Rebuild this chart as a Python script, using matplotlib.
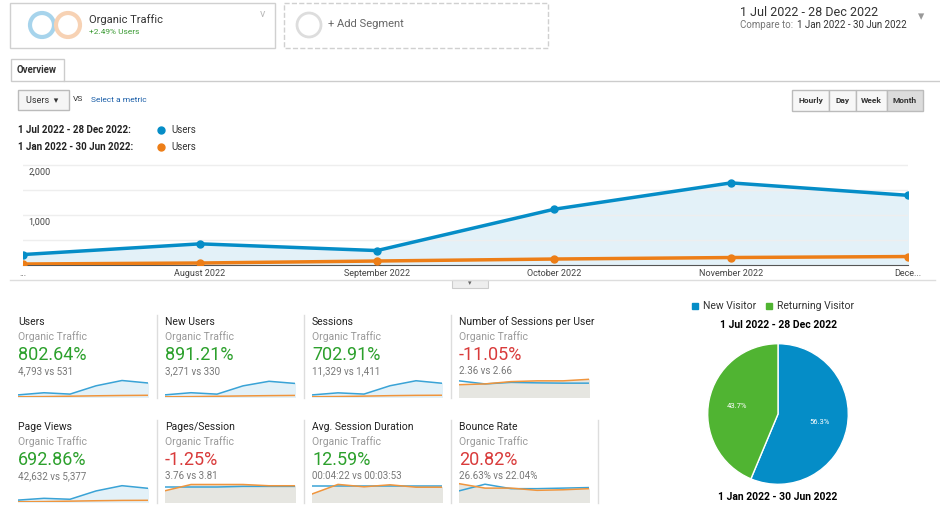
import numpy as np
import matplotlib
matplotlib.use('Agg')
import matplotlib.pyplot as plt
from matplotlib.patches import Rectangle, Circle

plt.rcParams['font.family'] = ['Roboto', 'DejaVu Sans']

# main chart data
months = ['...', 'August 2022', 'September 2022', 'October 2022', 'November 2022', 'Dece...']
users_cur = [210, 425, 290, 1120, 1650, 1400]
users_prev = [20, 40, 80, 120, 150, 170]

# metric tiles
tile_names = ['Users', 'New Users', 'Sessions', 'Number of Sessions per User',
              'Page Views', 'Pages/Session', 'Avg. Session Duration', 'Bounce Rate']
tile_pct = ['802.64%', '891.21%', '702.91%', '-11.05%',
            '692.86%', '-1.25%', '12.59%', '20.82%']
tile_vs = ['4,793 vs 531', '3,271 vs 330', '11,329 vs 1,411', '2.36 vs 2.66',
           '42,632 vs 5,377', '3.76 vs 3.81', '00:04:22 vs 00:03:53', '26.63% vs 22.04%']

# sparkline values (current, previous)
spark_cur = [
    [210, 425, 290, 1120, 1650, 1400],
    [150, 300, 200, 780, 1100, 950],
    [500, 1000, 700, 2700, 3900, 3300],
    [2.55, 2.35, 2.45, 2.42, 2.40, 2.40],
    [1800, 3500, 2600, 10500, 15500, 13000],
    [3.7, 3.7, 3.7, 3.75, 3.75, 3.75],
    [250, 250, 250, 250, 250, 250],
    [20, 32, 24, 24, 25, 26],
]
spark_prev = [
    [20, 40, 80, 120, 150, 170],
    [15, 25, 50, 75, 95, 110],
    [60, 110, 210, 320, 390, 420],
    [2.3, 2.35, 2.5, 2.55, 2.55, 2.65],
    [230, 420, 800, 1200, 1500, 1600],
    [3.4, 3.9, 3.9, 3.9, 3.8, 3.8],
    [150, 270, 240, 265, 235, 235],
    [33, 25, 25, 21, 22, 24],
]
spark_ylim = [(0, 2000), (0, 1400), (0, 4800), (1.5, 2.8), (0, 19000),
              (2.5, 4.1), (50, 300), (0, 36)]

pie_labels = ['New Visitor', 'Returning Visitor']
pie_values = [56.3, 43.7]

BLUE = '#058dc7'
ORANGE = '#ed7e17'
GREEN = '#50b432'
W, H = 940, 509

fig = plt.figure(figsize=(9.4, 5.09), dpi=100)


def rect(x, y, w, h):
    return [x / W, 1 - (y + h) / H, w / W, h / H]


# overlay for UI bits and text
ui = fig.add_axes([0, 0, 1, 1])
ui.set_xlim(0, W)
ui.set_ylim(H, 0)
ui.axis('off')

ui.add_patch(Rectangle((10, 3), 265, 45, fc='white', ec='#d0d0d0', lw=1))
ui.add_patch(Circle((42, 25), 12, fc='none', ec='#a7d4ec', lw=3))
ui.add_patch(Circle((68, 25), 12, fc='none', ec='#f7d2b4', lw=3))
ui.text(89, 20, 'Organic Traffic', fontsize=8, color='#333', va='center')
ui.text(89, 32, '+2.49% Users', fontsize=6, color='#3c9b35', va='center')
ui.text(263, 14, 'v', fontsize=8, color='#bbb', va='center', ha='center')
ui.add_patch(Rectangle((284, 3), 264, 45, fc='white', ec='#d0d0d0', lw=1, ls='--'))
ui.add_patch(Circle((309, 25), 12, fc='none', ec='#ddd', lw=2))
ui.text(328, 24, '+ Add Segment', fontsize=8, color='#666', va='center')
ui.text(740, 12, '1 Jul 2022 - 28 Dec 2022', fontsize=9, color='#333', va='center')
ui.text(740, 25, 'Compare to: ', fontsize=7, color='#777', va='center')
ui.text(797, 25, '1 Jan 2022 - 30 Jun 2022', fontsize=7, color='#333', va='center')
ui.text(918, 17, '▾', fontsize=9, color='#999', va='center')

ui.add_patch(Rectangle((11, 59), 53, 22, fc='white', ec='#ccc', lw=1))
ui.plot([64, W], [81, 81], color='#ccc', lw=1)
ui.text(37, 70, 'Overview', fontsize=7, weight='bold', ha='center', va='center', color='#333')

ui.add_patch(Rectangle((18, 90), 51, 20, fc='#f5f5f5', ec='#bbb', lw=1))
ui.text(26, 100, 'Users  ▾', fontsize=6.5, va='center', color='#333')
ui.text(73, 99, 'VS', fontsize=6, va='center', color='#333')
ui.text(91, 100, 'Select a metric', fontsize=6, va='center', color='#1a5ea8')
bx = [792, 829, 856, 887]
bw = [37, 27, 31, 36]
for x0, w0, lab in zip(bx, bw, ['Hourly', 'Day', 'Week', 'Month']):
    ui.add_patch(Rectangle((x0, 90), w0, 21, fc='#dcdcdc' if lab == 'Month' else '#f7f7f7',
                           ec='#bbb', lw=1))
    ui.text(x0 + w0 / 2, 100.5, lab, fontsize=6, weight='bold', ha='center', va='center', color='#333')

ui.text(18, 130, '1 Jul 2022 - 28 Dec 2022:', fontsize=7, weight='bold', va='center', color='#222')
ui.text(18, 147, '1 Jan 2022 - 30 Jun 2022:', fontsize=7, weight='bold', va='center', color='#222')
ui.plot([161], [130], 'o', color=BLUE, ms=5)
ui.plot([161], [147], 'o', color=ORANGE, ms=5)
ui.text(171, 130, 'Users', fontsize=7, va='center', color='#333')
ui.text(171, 147, 'Users', fontsize=7, va='center', color='#333')
ui.plot([10, 935], [280, 280], color='#ddd', lw=1)
ui.add_patch(Rectangle((452, 280), 36, 8, fc='#eee', ec='#ccc', lw=0.8))
ui.text(470, 284, '▾', fontsize=5, ha='center', va='center', color='#666')

# main chart
ax = fig.add_axes(rect(23, 158, 885, 107))
ax.patch.set_alpha(0)
x = np.arange(len(months))
ax.fill_between(x, users_cur, color='#e3f1f8', zorder=1)
ax.plot(x, users_cur, color=BLUE, lw=2.5, marker='o', ms=5, zorder=3)
ax.plot(x, users_prev, color=ORANGE, lw=2.5, marker='o', ms=5, zorder=3)
ax.set_xlim(0, 5)
ax.set_ylim(0, 2150)
ax.set_yticks([500, 1000, 1500, 2000])
ax.set_yticklabels([])
ax.grid(axis='y', color='#eee', lw=1)
ax.tick_params(length=0)
for s in ax.spines.values():
    s.set_visible(False)
ax.spines['bottom'].set_visible(True)
ax.spines['bottom'].set_color('#555')
ax.set_xticks(x)
ax.set_xticklabels(months, fontsize=6.5, color='#444')
ax.tick_params(axis='x', pad=3)
for v, lbl in [(2000, '2,000'), (1000, '1,000')]:
    ax.text(0.03, v - 50, lbl, fontsize=6.5, color='#444', va='top')

# tiles
tx = [18, 165, 312, 459]
ty = [315, 420]
for i in range(8):
    r, c = divmod(i, 4)
    x0, y0 = tx[c], ty[r]
    ui.text(x0, y0 + 7, tile_names[i], fontsize=7.5, color='#222', va='center')
    ui.text(x0, y0 + 22, 'Organic Traffic', fontsize=7.5, color='#999', va='center')
    col = '#d93b3b' if tile_pct[i].startswith('-') or i == 7 else '#2ca02c'
    ui.text(x0, y0 + 40, tile_pct[i], fontsize=13, color=col, va='center')
    ui.text(x0, y0 + 56, tile_vs[i], fontsize=7, color='#777', va='center')
    if c > 0:
        ui.plot([x0 - 8, x0 - 8], [y0, y0 + 83], color='#ddd', lw=1)
    sp = fig.add_axes(rect(x0, y0 + 62, 130, 20))
    sp.axis('off')
    sp.set_ylim(*spark_ylim[i])
    sp.set_xlim(0, 5)
    if i in (3, 5, 6, 7):
        sp.fill_between(x, spark_prev[i], spark_ylim[i][0], color='#e6e6e1')
    else:
        sp.fill_between(x, spark_cur[i], spark_ylim[i][0], color='#e3f1f8')
    sp.plot(x, spark_cur[i], color='#3aa3d6', lw=1.1)
    sp.plot(x, spark_prev[i], color='#f0953d', lw=1.1)
ui.plot([598, 598], [420, 503], color='#ddd', lw=1)

# pie
ui.plot([695], [306], 's', color=BLUE, ms=5)
ui.text(703, 306, pie_labels[0], fontsize=7.5, va='center', color='#333')
ui.plot([769], [306], 's', color=GREEN, ms=5)
ui.text(777, 306, pie_labels[1], fontsize=7.5, va='center', color='#333')
ui.text(778, 325, '1 Jul 2022 - 28 Dec 2022', fontsize=7.5, weight='bold', ha='center', va='center')
ui.text(778, 497, '1 Jan 2022 - 30 Jun 2022', fontsize=7.5, weight='bold', ha='center', va='center')
pa = fig.add_axes(rect(707, 343, 142, 142))
pa.pie(pie_values, colors=[BLUE, GREEN], startangle=90, counterclock=False,
       autopct='%.1f%%', pctdistance=0.6,
       wedgeprops=dict(ec='white', lw=1),
       textprops=dict(fontsize=5.5, color='white'))
pa.set_xlim(-1.01, 1.01)
pa.set_ylim(-1.01, 1.01)
pa.set_aspect('equal')

fig.savefig('out.png', dpi=100)
